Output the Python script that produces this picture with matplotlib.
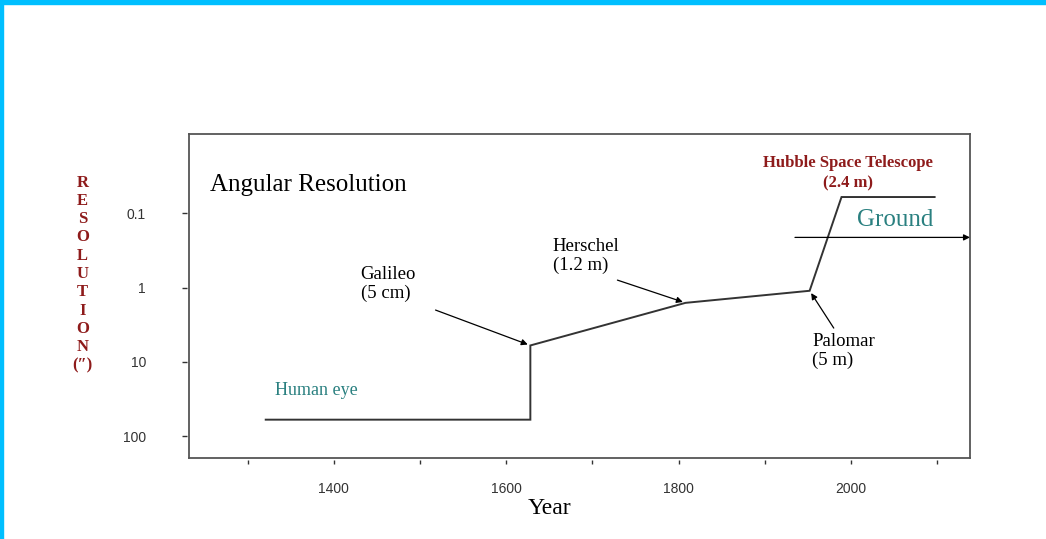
import matplotlib
matplotlib.use("Agg")
import matplotlib.pyplot as plt
from matplotlib.path import Path
from matplotlib.markers import MarkerStyle
from matplotlib.patches import Rectangle
from matplotlib.ticker import NullLocator

# best resolution reached (arcsec) vs year
years = [1321, 1628, 1628, 1808, 1952, 1989, 2097]
resolution = [60, 60, 6, 1.6, 1.1, 0.06, 0.06]

galileo = (1628, 6)
herschel = (1808, 1.6)
palomar = (1952, 1.1)
ground_start, ground_res = 1935, 0.21

xticks = [1300, 1400, 1500, 1600, 1700, 1800, 1900, 2000, 2100]
xlabels = ['', '1400', '', '1600', '', '1800', '', '2000', '']
yticks = [0.1, 1, 10, 100]
ylabels = ['0.1', '1', '10', '100']

darkred = '#8e1b1b'
teal = '#2a8080'
serif = ['Liberation Serif', 'DejaVu Serif']

fig = plt.figure(figsize=(10.46, 5.39), dpi=100)
ax = fig.add_axes([0.1807, 0.1503, 0.7466, 0.6011])

ax.plot(years, resolution, color='#333333', lw=1.4, solid_joinstyle='miter')

ax.set_yscale('log')
ax.set_xlim(1232, 2138)
ax.set_ylim(197, 0.00849)
ax.yaxis.set_minor_locator(NullLocator())

ax.set_xticks(xticks)
ax.set_xticklabels(xlabels)
ax.set_yticks(yticks)
ax.set_yticklabels(ylabels)
ax.tick_params(axis='x', direction='out', length=8, width=1, color='#333333',
               pad=9, labelsize=10, labelcolor='#333333')
ax.tick_params(axis='y', direction='out', length=11, width=1, color='#333333',
               pad=20, labelsize=10, labelcolor='#333333')
for lab in ax.get_xticklabels() + ax.get_yticklabels():
    lab.set_family('Liberation Sans')

# detached tick marks (gap between spine and tick)
xt = MarkerStyle(Path([(0, -2.2), (0, -6)]))
yt = MarkerStyle(Path([(-1.5, 0), (-6.5, 0)]))
for t in ax.xaxis.get_major_ticks():
    t.tick1line.set_marker(xt)
    t.tick1line.set_markersize(8.6)
for t in ax.yaxis.get_major_ticks():
    t.tick1line.set_marker(yt)
    t.tick1line.set_markersize(9.4)

for s in ax.spines.values():
    s.set_color('#555555')
    s.set_linewidth(1.3)

ax.set_xlabel('Year', family=serif, fontsize=17)
ax.xaxis.set_label_coords(0.462, -0.123)

ax.text(0.027, 0.843, 'Angular Resolution', transform=ax.transAxes,
        family=serif, fontsize=18, va='center', ha='left')

arrow = dict(arrowstyle='-|>', color='black', lw=0.9, mutation_scale=9,
             shrinkA=0, shrinkB=2)
ax.annotate('', xy=galileo, xytext=(1518, 2.0), arrowprops=arrow)
ax.annotate('', xy=herschel, xytext=(1729, 0.79), arrowprops=arrow)
ax.annotate('', xy=palomar, xytext=(1980, 3.5), arrowprops=arrow)
ax.annotate('', xy=(2138, ground_res), xytext=(ground_start, ground_res),
            arrowprops=dict(arrowstyle='-|>', color='black', lw=0.9,
                            mutation_scale=9, shrinkA=0, shrinkB=0),
            annotation_clip=False)

ax.text(1431, 0.51, 'Galileo\n(5 cm)', family=serif, fontsize=13.5,
        va='top', ha='left', linespacing=1.1)
ax.text(1654, 0.214, 'Herschel\n(1.2 m)', family=serif, fontsize=13.5,
        va='top', ha='left', linespacing=1.1)
ax.text(1955, 4.1, 'Palomar\n(5 m)', family=serif, fontsize=13.5,
        va='top', ha='left', linespacing=1.1)
ax.text(1332, 24.6, 'Human eye', family=serif, fontsize=13, color=teal,
        va='center', ha='left')
ax.text(1997, 0.0163, 'Hubble Space Telescope\n(2.4 m)', family=serif,
        fontsize=12, fontweight='bold', color=darkred, va='top', ha='center',
        linespacing=1.4)
ax.text(2007, 0.123, 'Ground', family=serif, fontsize=18, color=teal,
        va='center', ha='left')

fig.text(0.079, 0.4917, '\n'.join(list('RESOLUTION') + ['(″)']),
         family=serif, fontsize=12, fontweight='bold', color=darkred,
         ha='center', va='center', linespacing=1.19)

# cyan frame on top and left
fig.patches.append(Rectangle((0, 1 - 4 / 539), 1, 4 / 539, transform=fig.transFigure,
                             color='#00bfff', zorder=0))
fig.patches.append(Rectangle((0, 0), 3 / 1046, 1, transform=fig.transFigure,
                             color='#00bfff', zorder=0))

fig.savefig('out.png', dpi=100)
